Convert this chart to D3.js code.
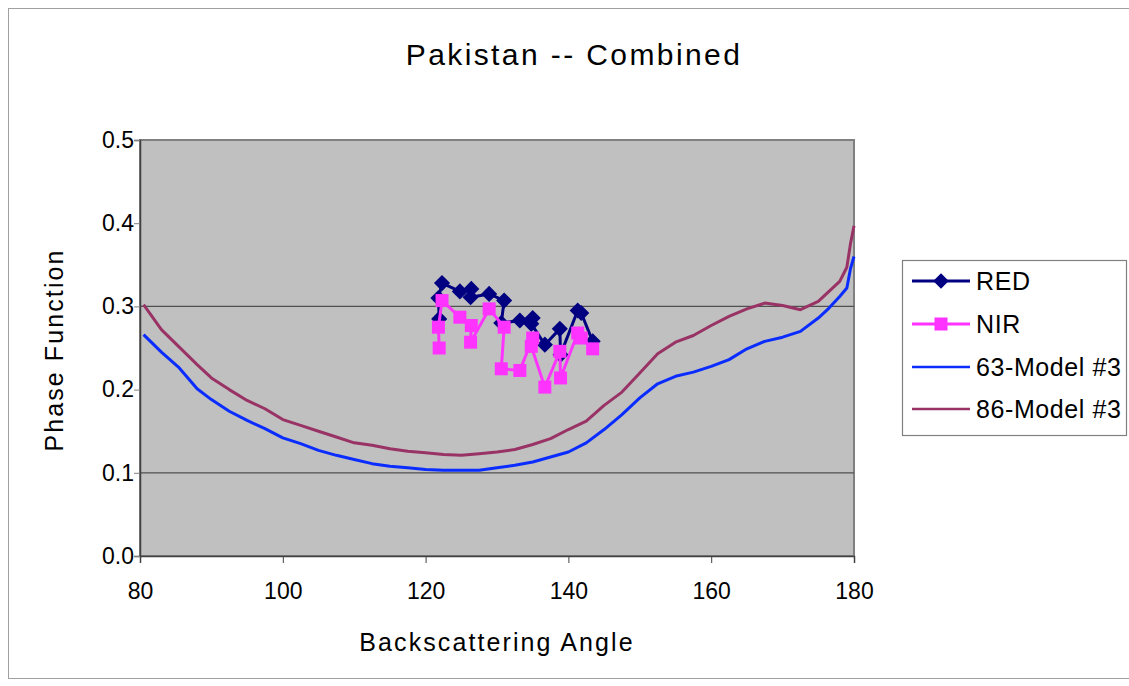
<!DOCTYPE html>
<html>
<head>
<meta charset="utf-8">
<script src="https://cdn.jsdelivr.net/npm/d3@7"></script>
<style>
  html, body { margin: 0; padding: 0; background: #fff; }
  svg { display: block; font-family: "Liberation Sans", Arial, sans-serif; }
</style>
</head>
<body>
<svg id="chart" width="1129" height="686"></svg>
<script>
// ---- data ----
const titleText = "Pakistan -- Combined";
const xTicks = [80, 100, 120, 140, 160, 180];
const yTicks = [0.0, 0.1, 0.2, 0.3, 0.4, 0.5];
const gridValues = [0.1, 0.3];

const obsAngles = [121.9, 121.8, 122.3, 124.8, 126.4, 126.3, 128.9, 131.0, 130.6, 133.2, 135.0, 134.8, 136.7, 138.8, 138.9, 141.3, 141.8, 143.4];
const redValues = [0.285, 0.310, 0.328, 0.318, 0.321, 0.311, 0.315, 0.307, 0.280, 0.283, 0.286, 0.279, 0.254, 0.273, 0.242, 0.295, 0.292, 0.258];
const nirValues = [0.250, 0.275, 0.307, 0.287, 0.277, 0.257, 0.297, 0.275, 0.225, 0.223, 0.262, 0.252, 0.203, 0.246, 0.214, 0.268, 0.262, 0.249];

const modelAngles = [80.5, 83, 85.5, 88, 90, 92.5, 95, 97.5, 100, 102.5, 105, 107.5, 110, 112.5, 115, 117.5, 120, 122.5, 125, 127.5, 130, 132.5, 135, 137.5, 140, 142.5, 145, 147.5, 150, 152.5, 155, 157.5, 160, 162.5, 165, 167.5, 170, 172.5, 175, 176.5, 178, 179, 179.5, 180];
const model63 = [0.266, 0.245, 0.226, 0.201, 0.188, 0.174, 0.163, 0.153, 0.142, 0.135, 0.127, 0.121, 0.116, 0.111, 0.108, 0.106, 0.104, 0.103, 0.103, 0.103, 0.106, 0.109, 0.113, 0.119, 0.125, 0.136, 0.152, 0.170, 0.190, 0.207, 0.216, 0.221, 0.228, 0.236, 0.249, 0.258, 0.263, 0.270, 0.286, 0.298, 0.312, 0.322, 0.345, 0.360];
const model86 = [0.302, 0.272, 0.251, 0.230, 0.214, 0.200, 0.187, 0.177, 0.164, 0.157, 0.150, 0.143, 0.136, 0.133, 0.129, 0.126, 0.124, 0.122, 0.121, 0.123, 0.125, 0.128, 0.134, 0.141, 0.152, 0.162, 0.181, 0.197, 0.220, 0.243, 0.257, 0.265, 0.277, 0.288, 0.297, 0.304, 0.301, 0.296, 0.306, 0.318, 0.330, 0.347, 0.375, 0.397];

const seriesNames = ["RED", "NIR", "63-Model #3", "86-Model #3"];
const seriesColors = ["#000080", "#ff33ff", "#0a2cff", "#993366"];

// ---- layout ----
const svg = d3.select("#chart");
const plot = { left: 140, right: 854, top: 140, bottom: 556 };
const FONT = "'Liberation Sans', Arial, sans-serif";

const x = d3.scaleLinear().domain([80, 180]).range([plot.left, plot.right]);
const y = d3.scaleLinear().domain([0, 0.5]).range([plot.bottom, plot.top]);

// outer chart border
svg.append("rect").attr("x", 8.5).attr("y", 8.5).attr("width", 1140).attr("height", 670)
  .attr("fill", "none").attr("stroke", "#a0a0a0").attr("stroke-width", 1);

// title
svg.append("text").attr("x", 574).attr("y", 65).attr("text-anchor", "middle")
  .attr("font-size", 30).attr("letter-spacing", 2.4).attr("fill", "#000").text(titleText);

// plot area
svg.append("rect").attr("x", plot.left).attr("y", plot.top)
  .attr("width", plot.right - plot.left).attr("height", plot.bottom - plot.top)
  .attr("fill", "#c0c0c0").attr("stroke", "#808080").attr("stroke-width", 2);

// gridlines
svg.append("g").selectAll("line").data(gridValues).join("line")
  .attr("x1", plot.left).attr("x2", plot.right)
  .attr("y1", d => y(d)).attr("y2", d => y(d))
  .attr("stroke", "#505050").attr("stroke-width", 1.3);

// axes
const xAxis = d3.axisBottom(x).tickValues(xTicks).tickSize(7).tickPadding(20).tickFormat(d3.format("d"));
const gx = svg.append("g").attr("transform", `translate(0,${plot.bottom})`).call(xAxis);
gx.select(".domain").attr("stroke", "#404040").attr("stroke-width", 1.5);
gx.selectAll(".tick line").attr("stroke", "#404040");
gx.selectAll("text").attr("font-size", 23).attr("fill", "#000").attr("font-family", FONT);

const yAxis = d3.axisLeft(y).tickValues(yTicks).tickSize(6).tickPadding(0).tickFormat(d3.format(".1f"));
const gy = svg.append("g").attr("transform", `translate(${plot.left},0)`).call(yAxis);
gy.select(".domain").attr("stroke", "#404040").attr("stroke-width", 1.5);
gy.selectAll(".tick line").attr("stroke", "#808080");
gy.selectAll("text").attr("font-size", 23).attr("fill", "#000").attr("font-family", FONT);

// axis titles
svg.append("text").attr("x", 497).attr("y", 651).attr("text-anchor", "middle")
  .attr("font-size", 25).attr("letter-spacing", 2.1).attr("fill", "#000").text("Backscattering Angle");
svg.append("text").attr("transform", "translate(63,350) rotate(-90)").attr("text-anchor", "middle")
  .attr("font-size", 25).attr("letter-spacing", 2.1).attr("fill", "#000").text("Phase Function");

// model lines
const line = d3.line().x(d => x(d[0])).y(d => y(d[1]));
const m63 = modelAngles.map((a, i) => [a, model63[i]]);
const m86 = modelAngles.map((a, i) => [a, model86[i]]);
svg.append("path").datum(m63).attr("d", line).attr("fill", "none")
  .attr("stroke", seriesColors[2]).attr("stroke-width", 3).attr("stroke-linejoin", "round");
svg.append("path").datum(m86).attr("d", line).attr("fill", "none")
  .attr("stroke", seriesColors[3]).attr("stroke-width", 3).attr("stroke-linejoin", "round");

// observation series
const redPts = obsAngles.map((a, i) => [a, redValues[i]]);
const nirPts = obsAngles.map((a, i) => [a, nirValues[i]]);

svg.append("path").datum(redPts).attr("d", line).attr("fill", "none")
  .attr("stroke", seriesColors[0]).attr("stroke-width", 3).attr("stroke-linejoin", "round");
svg.append("g").selectAll("path").data(redPts).join("path")
  .attr("d", d3.symbol().type(d3.symbolSquare).size(130))
  .attr("transform", d => `translate(${x(d[0])},${y(d[1])}) rotate(45)`)
  .attr("fill", seriesColors[0]);

svg.append("path").datum(nirPts).attr("d", line).attr("fill", "none")
  .attr("stroke", seriesColors[1]).attr("stroke-width", 3).attr("stroke-linejoin", "round");
svg.append("g").selectAll("rect").data(nirPts).join("rect")
  .attr("x", d => x(d[0]) - 6.5).attr("y", d => y(d[1]) - 6.5)
  .attr("width", 13).attr("height", 13).attr("fill", seriesColors[1]);

// legend
const lg = svg.append("g");
lg.append("rect").attr("x", 902.5).attr("y", 260.5).attr("width", 224).attr("height", 175)
  .attr("fill", "#fff").attr("stroke", "#808080").attr("stroke-width", 1.2);
const legendY = [281, 324, 367, 409];
seriesNames.forEach((name, i) => {
  const yy = legendY[i];
  lg.append("line").attr("x1", 912).attr("x2", 970).attr("y1", yy).attr("y2", yy)
    .attr("stroke", seriesColors[i]).attr("stroke-width", i < 2 ? 3 : 2.5);
  if (i === 0) {
    lg.append("path").attr("d", d3.symbol().type(d3.symbolSquare).size(120)())
      .attr("transform", `translate(941,${yy}) rotate(45)`).attr("fill", seriesColors[0]);
  } else if (i === 1) {
    lg.append("rect").attr("x", 934.5).attr("y", yy - 6.5).attr("width", 13).attr("height", 13)
      .attr("fill", seriesColors[1]);
  }
  lg.append("text").attr("x", 976).attr("y", yy + 9).attr("font-size", 25)
    .attr("letter-spacing", 0.6).attr("fill", "#000").text(name);
});
</script>
</body>
</html>
